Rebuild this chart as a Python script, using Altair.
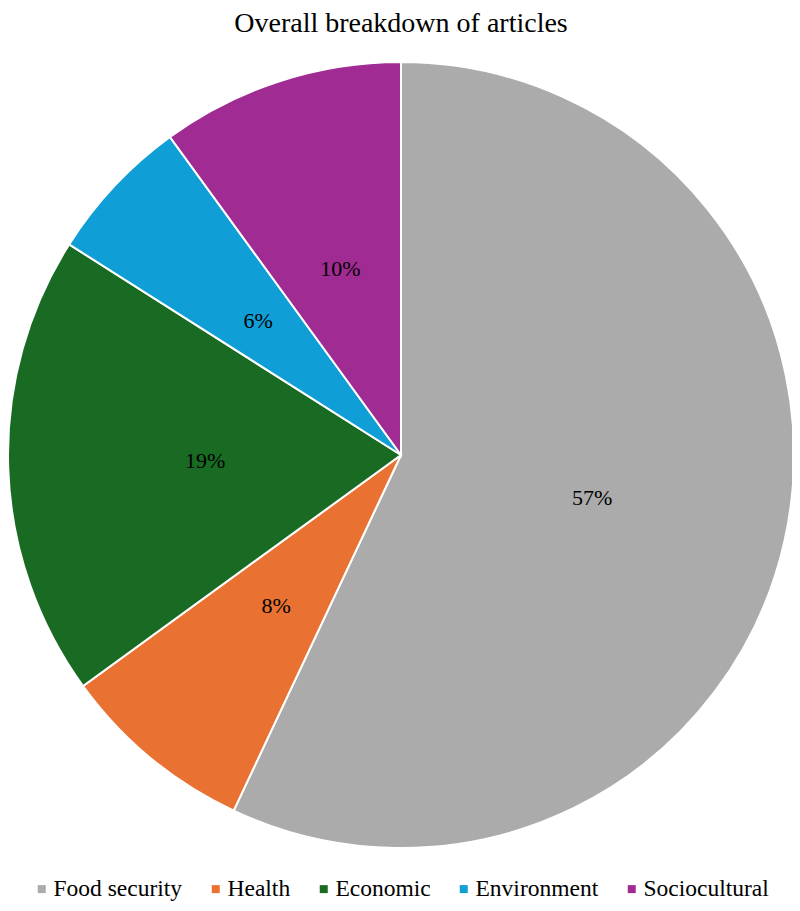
import altair as alt
import pandas as pd

categories = ["Food security", "Health", "Economic", "Environment", "Sociocultural"]
values = [57, 8, 19, 6, 10]
colors = ["#ABABAB", "#E97132", "#196B24", "#0F9ED5", "#A02B93"]

df = pd.DataFrame({
    "category": categories,
    "value": values,
    "order": list(range(len(categories))),
    "label": [f"{v}%" for v in values],
})

FONT = "Liberation Serif"
CX, CY, R = 393, 447, 393

base = alt.Chart(df).encode(
    theta=alt.Theta("value:Q", stack=True),
    order=alt.Order("order:Q"),
)

arcs = base.mark_arc(outerRadius=R, stroke="white", strokeWidth=2).encode(
    x=alt.value(CX),
    y=alt.value(CY),
    color=alt.Color(
        "category:N",
        scale=alt.Scale(domain=categories, range=colors),
        sort=categories,
        legend=alt.Legend(
            title=None,
            orient="none",
            direction="horizontal",
            legendX=20,
            legendY=869,
            symbolType="square",
            symbolSize=64,
            symbolStrokeWidth=0,
            symbolOffset=2,
            labelFont=FONT,
            labelFontSize=23.5,
            labelColor="#000000",
            labelOffset=0,
            columnPadding=19,
            padding=0,
        ),
    ),
)

texts = base.mark_text(radius=196, font=FONT, fontSize=22, color="#000000").encode(
    x=alt.value(CX),
    y=alt.value(CY),
    text="label:N",
)

title = alt.Chart(pd.DataFrame({"t": ["Overall breakdown of articles"]})).mark_text(
    font=FONT, fontSize=28, color="#000000", baseline="alphabetic", align="center"
).encode(x=alt.value(CX), y=alt.value(24), text="t:N")

chart = alt.layer(arcs, texts, title).properties(
    width=784,
    height=895,
    autosize=alt.AutoSizeParams(type="none"),
    padding=0,
).configure_view(stroke=None)

chart.save("out.html", embed_options={"renderer": "svg", "actions": False})
